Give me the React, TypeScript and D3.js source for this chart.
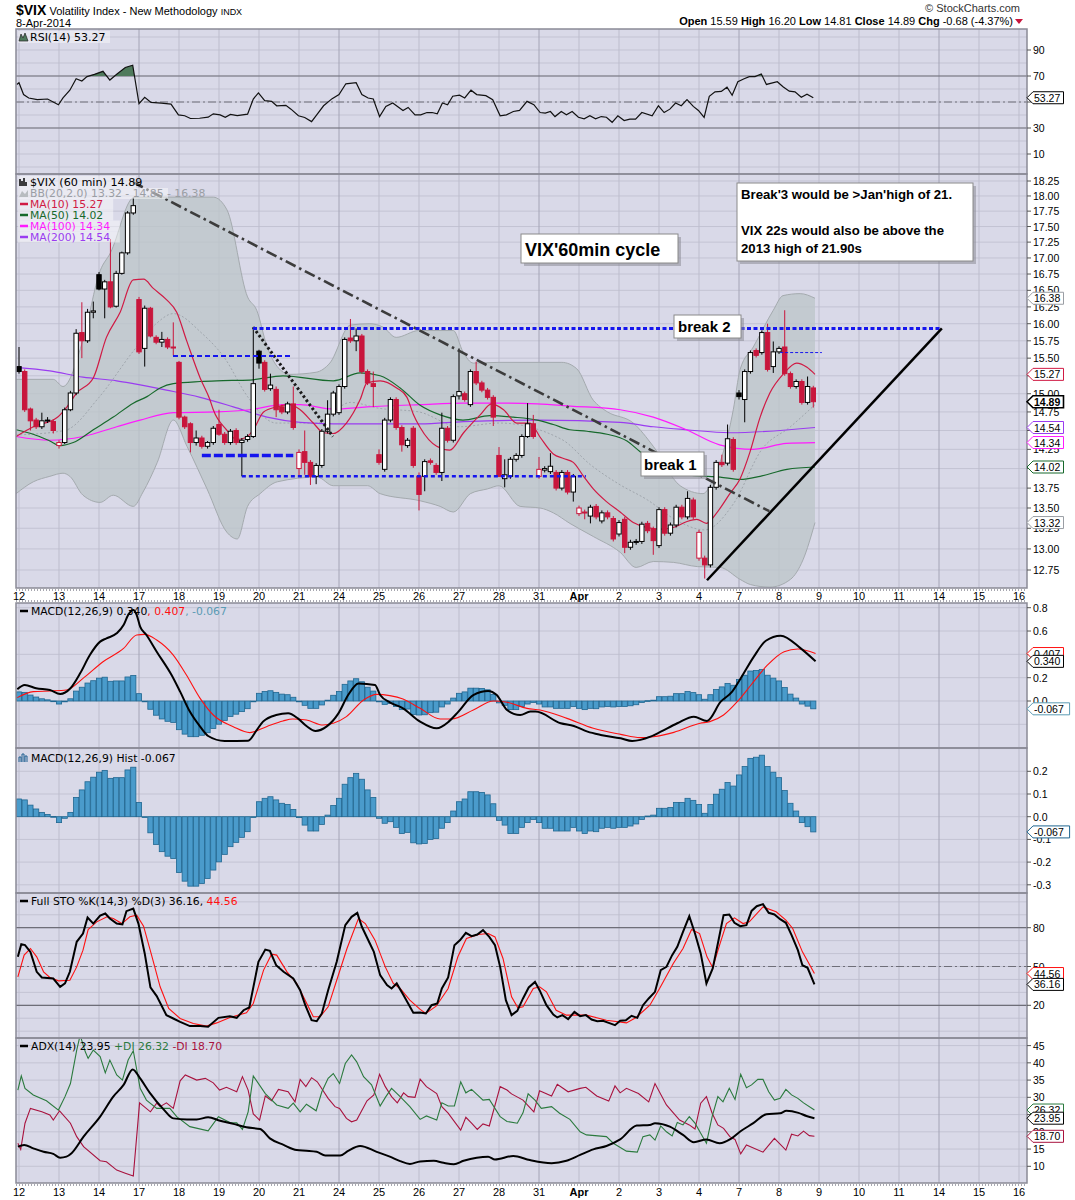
import React from "react";
import * as d3 from "d3";

type P = [number, number];

// ---------- data ----------
const dayLabels = ["12","13","14","17","18","19","20","21","24","25","26","27","28","31","Apr","2","3","4","7","8","9","10","11","14","15","16"];
const mondayDays = [3, 8, 13, 18, 23];
const BARS_PER_DAY = 7;

const opens = [15.38,15.31,14.79,14.64,14.55,14.63,14.62, 14.30,14.34,14.78,15.01,15.87,15.75,16.17, 16.74,16.52,16.63,16.26,16.76,17.08,17.72,
 16.36,15.64,16.23,15.80,15.73,15.77,15.66, 15.44,14.68,14.59,14.34,14.40,14.29,14.34, 14.58,14.45,14.34,14.50,14.34,14.38,14.42,
 15.60,15.44,15.07,15.06,14.82,14.75,14.86, 14.00,14.22,14.08,13.90,14.04,14.49,14.72, 14.74,15.10,15.79,15.75,15.82,15.31,15.14,
 14.18,13.99,14.64,14.92,14.54,14.30,14.53, 13.90,13.90,14.10,14.04,13.95,14.53,14.37, 14.97,15.00,14.85,15.31,15.15,15.05,14.95,
 14.17,13.87,13.90,14.12,14.17,14.42,14.59, 13.90,13.98,13.96,13.95,13.75,13.95,13.70, 13.43,13.45,13.40,13.52,13.34,13.44,13.37,
 13.18,13.36,13.02,13.08,13.09,13.31,13.24, 13.04,13.48,13.19,13.29,13.51,13.39,13.60, 12.89,12.89,12.81,13.76,14.08,14.07,14.38,
 15.01,14.92,15.31,15.61,15.58,15.87,15.38, 15.59,15.66,15.28,15.10,15.17,14.88,15.08];
const highs = [15.66,15.34,14.81,14.67,14.74,14.68,14.65, 14.37,14.81,15.04,15.92,16.32,16.22,16.33, 16.78,16.66,17.30,16.80,17.10,17.75,17.97,
 16.40,16.27,16.25,15.83,15.88,15.80,16.02, 15.46,14.70,14.61,14.50,14.43,14.36,14.56, 14.78,14.48,14.52,14.53,14.40,14.45,15.95,
 15.62,15.47,15.28,15.10,14.85,14.89,15.10, 14.25,14.50,14.11,14.07,14.52,14.91,15.04, 15.13,15.80,16.07,15.93,15.85,15.34,15.31,
 14.25,14.67,14.95,14.95,14.57,14.40,14.56, 13.95,14.12,14.13,14.07,14.74,14.56,14.99, 15.64,15.03,15.34,15.45,15.18,15.08,14.98,
 14.28,14.12,14.15,14.20,14.45,14.87,14.71, 14.15,14.03,14.20,13.98,13.98,13.98,13.93, 13.53,13.48,13.54,13.55,13.47,13.47,13.40,
 13.35,13.39,13.11,13.12,13.33,13.34,13.27, 13.51,13.51,13.32,13.54,13.54,13.71,13.63, 13.23,12.92,13.79,14.11,14.18,14.58,14.41,
 15.05,15.34,15.61,15.64,15.90,16.00,15.74, 15.67,16.20,15.31,15.20,15.20,15.24,15.11];
const lows = [15.28,14.75,14.50,14.52,14.52,14.60,14.46, 14.26,14.32,14.76,14.98,15.50,15.72,16.08, 16.50,16.08,16.23,16.24,16.74,17.05,17.69,
 15.56,15.38,15.80,15.70,15.66,15.63,15.54, 14.65,14.52,14.21,14.30,14.26,14.26,14.31, 14.43,14.31,14.31,14.31,13.90,14.35,14.40,
 15.35,15.03,15.04,14.68,14.72,14.72,14.51, 13.90,13.92,13.79,13.80,14.01,14.46,14.69, 14.71,15.07,15.72,15.60,15.28,15.12,14.82,
 14.05,13.96,14.61,14.51,14.22,14.27,14.01, 13.47,13.71,14.05,13.92,13.84,14.34,14.34, 14.92,14.89,14.82,15.12,15.02,14.92,14.56,
 13.89,13.76,13.87,14.09,14.14,14.40,14.39, 13.87,13.95,13.93,13.72,13.72,13.67,13.58, 13.40,13.36,13.31,13.36,13.31,13.36,13.09,
 13.15,12.95,12.99,13.05,13.06,13.19,12.93, 13.01,13.16,13.16,13.26,13.36,13.36,13.36, 12.86,12.65,12.78,13.73,14.02,14.04,13.96,
 14.92,14.61,15.28,15.51,15.55,15.31,15.29, 15.56,15.25,15.07,15.07,14.85,14.85,14.81];
const closes = [15.31,14.78,14.63,14.55,14.63,14.64,14.50, 14.34,14.78,15.01,15.86,15.75,16.17,16.19, 16.52,16.63,16.25,16.76,17.08,17.72,17.84,
 15.59,16.23,15.82,15.73,15.77,15.66,15.65, 14.68,14.55,14.34,14.40,14.29,14.34,14.53, 14.45,14.34,14.49,14.34,14.37,14.42,15.14,
 15.43,15.06,15.12,14.78,14.75,14.86,14.54, 14.21,14.08,13.90,14.04,14.49,14.72,15.01, 15.10,15.77,15.75,15.82,15.31,15.15,15.10,
 14.08,14.64,14.92,14.54,14.31,14.37,14.04, 13.67,14.09,14.08,13.95,14.53,14.37,14.96, 15.03,14.92,15.31,15.15,15.05,14.95,14.68,
 13.90,13.92,14.12,14.17,14.42,14.59,14.42, 13.99,14.00,14.03,13.75,13.95,13.70,13.90, 13.50,13.44,13.51,13.39,13.44,13.39,13.12,
 13.32,13.02,13.08,13.09,13.30,13.22,13.10, 13.48,13.19,13.29,13.51,13.39,13.62,13.39, 13.20,12.81,13.76,14.08,14.05,14.39,13.99,
 14.96,15.31,15.58,15.54,15.87,15.34,15.59, 15.64,15.28,15.10,15.17,14.88,15.10,14.89];

const bbUpper: P[] = [[-0.5,15.2],[6,15.2],[7.7,15.1],[11.2,15.76],[14.2,16.8],[16,17.08],[20,17.97],[21,17.98],[34,17.98],[36.4,17.77],[40,16.4],[41.6,16.2],[43.4,15.67],[45.2,15.38],[47.4,15.27],[52,15.3],[54.4,15.43],[58,15.98],[61.4,16.0],[63.7,15.95],[66,15.8],[70,15.9],[76,15.9],[77.7,15.59],[79.5,15.43],[84,15.44],[95,15.44],[97.6,15.35],[100.5,14.91],[101.7,14.82],[103,14.75],[107.5,14.6],[111,14.29],[115.7,13.78],[119.7,13.68],[121.5,13.87],[125,14.78],[126.2,15.34],[128.5,15.66],[132,16.2],[133.7,16.42],[136.7,16.45],[139.3,16.38]];
const bbLower: P[] = [[-0.5,13.68],[2.5,13.83],[5.4,13.9],[7.7,13.94],[8.9,13.9],[11.2,13.66],[14.2,13.57],[16.5,13.66],[20,13.52],[21.7,13.7],[24.2,14.08],[27,14.64],[29.4,14.29],[32.9,13.74],[36.4,13.2],[38.2,13.12],[40,13.52],[42.2,13.68],[45.2,13.83],[52.2,13.89],[55,13.78],[61,13.78],[63.2,13.68],[70.2,13.59],[73.7,13.52],[76,13.45],[79,13.68],[82,13.74],[84,13.78],[87.7,13.52],[91.2,13.5],[93.5,13.44],[96.4,13.31],[100.5,13.15],[105.2,12.96],[108,12.78],[111,12.85],[114.5,12.84],[118.7,12.79],[122.7,12.78],[126.2,12.64],[128,12.58],[131.4,12.55],[135,12.64],[137.2,12.87],[139.3,13.32]];
const bbMid: P[] = [[-0.5,14.44],[8,14.5],[14,14.95],[20,15.6],[24,16.0],[27,16.15],[32,15.86],[36,15.5],[40,14.96],[45,14.6],[52,14.6],[58,14.88],[63,14.8],[70,14.75],[77,14.55],[84,14.6],[95,14.38],[100,14.05],[105,13.8],[110,13.6],[115,13.35],[120,13.23],[125,13.55],[130,14.25],[135,14.55],[139.3,14.85]];
const ma10: P[] = [[-0.5,14.42],[2.5,14.55],[6.6,14.67],[8.3,14.81],[10.1,15.01],[13,15.22],[15.3,15.8],[17.7,16.17],[20,16.66],[21.8,16.67],[23.5,16.53],[25.8,16.36],[27.6,16.17],[29.3,15.76],[31.7,15.22],[33.4,14.92],[34,14.78],[36.3,14.51],[38.1,14.38],[39.8,14.41],[41,14.51],[42.8,14.75],[45.1,14.82],[47.4,14.85],[49.2,14.78],[51.5,14.6],[53.3,14.47],[55,14.46],[57.3,14.6],[59.7,14.92],[60.9,15.15],[63.2,15.18],[66.1,15.08],[67.9,14.95],[69,14.72],[70.2,14.54],[73.1,14.29],[75.4,14.24],[77.8,14.47],[80.7,14.71],[82.7,14.86],[84.8,14.78],[87.1,14.6],[89.4,14.6],[91.2,14.41],[93.5,14.19],[95.3,14.13],[97,14.08],[98.8,13.9],[100.5,13.74],[102.8,13.58],[105.2,13.45],[107.5,13.32],[109.8,13.26],[112.2,13.24],[114.5,13.26],[116.8,13.33],[118.6,13.36],[120.3,13.31],[122.1,13.44],[124.4,13.68],[126.2,13.87],[127.9,14.21],[129.7,14.68],[131.4,15.01],[133.8,15.28],[136.1,15.43],[137.9,15.37],[139.3,15.27]];
const ma50: P[] = [[-0.5,14.51],[2.5,14.45],[5.4,14.36],[7.2,14.3],[9.5,14.34],[13,14.51],[16.5,14.68],[20,14.87],[22.4,14.96],[24.7,15.08],[27,15.14],[31.7,15.17],[34.6,15.18],[40.4,15.19],[46.2,15.25],[55,15.18],[59.7,15.29],[63.2,15.25],[66.7,15.08],[70.2,14.84],[73.7,14.71],[77.7,14.64],[82.4,14.7],[86.5,14.68],[90.7,14.64],[93.5,14.58],[96.4,14.51],[99.4,14.49],[102.9,14.45],[106.4,14.36],[108.7,14.22],[111,14.11],[114.5,13.99],[118,13.91],[122.7,13.89],[126.2,13.86],[129.7,13.9],[134.4,13.99],[139.3,14.02]];
const ma100: P[] = [[-0.5,14.42],[5.4,14.37],[11.2,14.42],[17.1,14.55],[21.2,14.64],[27,14.74],[34.6,14.75],[40.4,14.78],[46.2,14.85],[49.2,14.85],[55,14.79],[60.9,14.82],[70.2,14.85],[77.8,14.87],[84.8,14.87],[90.7,14.86],[96.5,14.83],[105.2,14.78],[111,14.68],[116.8,14.51],[122.6,14.31],[128.5,14.25],[134.3,14.33],[139.3,14.34]];
const ma200: P[] = [[-0.5,15.37],[5.4,15.32],[11.2,15.23],[17.1,15.18],[20,15.14],[25.8,15.05],[31.7,14.95],[37.5,14.82],[43.4,14.68],[49.2,14.61],[55,14.59],[70.2,14.59],[77.8,14.62],[90.7,14.64],[105.2,14.61],[111,14.55],[116.8,14.51],[124.4,14.47],[139.3,14.54]];

const rsi: P[] = [[-0.4,63.5],[0,64.8],[0.8,55.7],[1.7,53.1],[3.2,51.8],[5,52.3],[6.9,47.9],[7.7,53.1],[8.9,59.1],[10,67.9],[11,66.1],[11.9,69.5],[13.2,71.3],[14.7,73.6],[15.9,66.9],[17.1,71.3],[18.6,76.5],[19.9,78.3],[21,48.7],[22,53.6],[23.1,49.7],[24.9,49.2],[26.6,48.4],[27.9,40.1],[29,39.4],[30,37.3],[31.6,37.5],[33.1,38.3],[34,40.9],[35.2,40.1],[36.1,38.3],[37,40.4],[38.2,39.6],[40,40.6],[41,52.3],[41.9,57],[43,51],[44.2,50.5],[45.1,47.1],[46.7,47.4],[47.6,44.5],[48.9,39.4],[50,38.1],[51.2,34.9],[52.1,40.1],[53.3,47.1],[54.8,52.6],[56,55.7],[57.2,64],[59,64.8],[60,55.7],[61.1,53.1],[62,52.3],[63.1,38.8],[64.2,46.6],[65.4,49.2],[67.2,43.5],[68.1,45.8],[69.3,40.1],[70.3,40.1],[71.4,41.9],[72.3,41.9],[73.2,40.9],[74.1,49.2],[75,47.9],[75.9,54.4],[77.1,55.2],[78,53.1],[79.1,59.1],[80.1,55.7],[81.7,54.9],[82.9,51.8],[84.2,39.4],[85.3,40.1],[86.5,42.7],[87.6,43.5],[88.9,50.5],[90.1,47.9],[91.2,41.9],[92.1,41.4],[93,42.7],[93.8,38.8],[94.9,42.7],[95.8,40.1],[96.8,42.7],[97.9,38.3],[98.9,37],[99.9,39.4],[100.9,37],[101.9,38.8],[102.8,38.3],[103.8,34.4],[104.8,39.4],[105.9,35.7],[106.9,36.8],[107.9,36.8],[109,41.9],[110.8,39.4],[111.9,47.1],[112.9,41.9],[113.9,44.5],[114.9,49.2],[115.9,47.1],[116.9,51.8],[118,46.6],[118.9,43.5],[119.9,38.1],[120.8,54.4],[121.8,57.8],[122.9,58.1],[123.9,61.4],[124.8,55.2],[125.8,65.6],[126.9,67.9],[127.8,69.5],[128.8,69.5],[129.9,71.6],[130.8,63.5],[132.7,65.6],[133.7,61.7],[134.8,58.3],[135.8,57.8],[136.9,53.6],[137.9,56],[139,53.3]];

const macdLine: P[] = [[-0.3,0.10],[1,0.137],[3,0.109],[5.4,0.094],[7.2,0.06],[9,0.109],[10.7,0.237],[12.4,0.394],[14.2,0.509],[15.3,0.537],[17.1,0.58],[18.3,0.651],[19.1,0.737],[20,0.78],[20.6,0.737],[21.2,0.637],[22.3,0.566],[24.1,0.423],[26.7,0.223],[28.2,0.08],[29.9,-0.091],[31.7,-0.22],[33.1,-0.30],[36,-0.343],[40.1,-0.34],[41.6,-0.249],[42.7,-0.177],[45,-0.12],[47.1,-0.106],[48.8,-0.149],[50.3,-0.214],[51.9,-0.257],[53.8,-0.22],[55.9,-0.106],[57.6,0.051],[59.4,0.151],[62.3,0.137],[63.2,0.051],[64.9,-0.011],[67.2,-0.063],[70.2,-0.177],[73.1,-0.234],[75.2,-0.177],[76.9,-0.091],[79.5,0.051],[82.1,0.086],[83.6,0.051],[85.4,-0.077],[87.7,-0.12],[89.5,-0.091],[90.4,-0.091],[94.8,-0.191],[97.1,-0.214],[99.5,-0.263],[101.8,-0.291],[105.3,-0.32],[107.3,-0.343],[110.5,-0.306],[112.3,-0.263],[115.2,-0.191],[118.1,-0.134],[120.4,-0.171],[122.8,-0.006],[124.8,0.08],[126.3,0.194],[128.6,0.38],[130.7,0.517],[133.3,0.56],[136.8,0.451],[139.4,0.340]];
const macdSignal: P[] = [[-0.3,0.029],[2.5,0.08],[5.4,0.086],[8.3,0.094],[11.2,0.194],[14.7,0.337],[18.3,0.451],[20.6,0.566],[22,0.571],[24.1,0.523],[27,0.394],[29.3,0.223],[31.7,0.023],[34,-0.12],[37.5,-0.22],[40.4,-0.271],[43.3,-0.22],[46.2,-0.171],[47.9,-0.154],[50.3,-0.163],[53.2,-0.206],[55,-0.191],[57.3,-0.134],[60.3,0.009],[62.6,0.057],[64.9,0.046],[67.2,0.017],[70.2,-0.063],[73.7,-0.154],[75.7,-0.154],[79.5,-0.077],[83,0],[85.4,-0.011],[88.9,-0.063],[91.2,-0.077],[95.9,-0.149],[100.5,-0.234],[105.3,-0.286],[108.7,-0.314],[111,-0.306],[114.6,-0.269],[119.2,-0.191],[120.9,-0.177],[123.3,-0.12],[125.7,-0.006],[128.1,0.137],[131,0.309],[133.9,0.423],[136.3,0.446],[139.4,0.407]];
const macdHist = [0.078,0.074,0.051,0.034,0.019,0.010,0.001,-0.026,-0.007,0.019,0.085,0.118,0.154,0.174,0.196,0.204,0.169,0.172,0.172,0.206,0.218,
 0.063,-0.002,-0.071,-0.122,-0.154,-0.174,-0.184,-0.246,-0.284,-0.306,-0.306,-0.294,-0.272,-0.235,-0.199,-0.166,-0.132,-0.113,-0.091,-0.066,-0.002,
 0.066,0.081,0.088,0.074,0.059,0.054,0.032,-0.004,-0.037,-0.063,-0.063,-0.034,0.007,0.049,0.081,0.143,0.172,0.191,0.165,0.118,0.085,
 -0.007,-0.029,-0.022,-0.047,-0.074,-0.069,-0.115,-0.120,-0.118,-0.100,-0.096,-0.051,-0.026,0.025,0.066,0.078,0.110,0.110,0.107,0.096,0.057,
 -0.016,-0.037,-0.074,-0.074,-0.047,-0.026,-0.012,-0.026,-0.051,-0.051,-0.063,-0.063,-0.063,-0.047,-0.063,-0.074,-0.063,-0.066,-0.051,-0.047,-0.051,
 -0.047,-0.047,-0.041,-0.032,-0.012,0.003,0.007,0.037,0.037,0.041,0.063,0.063,0.081,0.072,0.054,0.015,0.054,0.099,0.121,0.151,0.135,
 0.184,0.221,0.257,0.262,0.271,0.221,0.196,0.172,0.115,0.059,0.025,-0.026,-0.044,-0.067];

const stoK: P[] = [[-0.2,57.5],[0.4,67.3],[1.05,66.5],[2,61.3],[3.1,45.9],[4,41.5],[6,40.7],[7.2,34.3],[8.05,36.9],[8.9,45.9],[10.1,69.1],[11.2,75.5],[12,87.9],[13,83.2],[14.2,89.4],[15.1,91],[15.9,87.1],[17.1,83.2],[18.1,82.5],[18.8,92.8],[20,94.8],[20.9,83.2],[22,60.1],[23,33.8],[24.1,27.1],[25.8,12.4],[27,9.8],[28.2,7.2],[29.9,3.9],[31.7,3.9],[33.1,3.4],[34.9,10.3],[36.9,11.6],[38.1,10.3],[39.3,16.2],[40.3,18.3],[41.9,53.6],[43.1,63.1],[43.9,62.1],[45,51],[46.3,45.9],[48,40.7],[49.2,31.7],[50.1,20.1],[51.2,8.5],[52.1,7.7],[53,13.7],[54.1,31.7],[55.6,53.6],[57.1,82],[58.2,88.4],[59.2,91.5],[60,80.7],[61.4,67.8],[62.1,61.3],[63.2,43.3],[64.4,35.6],[65.2,33],[66.1,36.9],[67.3,27.8],[69,14.2],[70.2,14.5],[71.2,13.7],[72.2,20.1],[73.2,21.4],[74,33],[75.1,41.5],[76.2,66.5],[77.2,70.4],[78.2,76],[79.2,73.5],[80.2,74.7],[81.2,78.1],[82.3,72.9],[83.3,66.5],[84.2,49.7],[85.2,24],[86.2,12.4],[87.2,15.7],[88.2,25.3],[89.2,33.8],[90.3,38.1],[91.1,31.7],[92.3,20.1],[93.5,12.9],[94.2,10.6],[95.1,12.4],[96.1,9.3],[97.2,14.9],[98.2,11.6],[99.2,12.4],[100.2,9],[101.2,7.7],[102.2,8],[103.2,6.4],[104.3,4.6],[105.2,8],[106.2,8.5],[107.2,11.9],[108.2,10.3],[109.2,20.1],[110.2,25.3],[111.3,30.4],[112.3,47.2],[113.3,49.7],[114.3,58.8],[115.2,65.2],[116.2,76.8],[117.3,88.9],[118.3,75.5],[119.3,60.1],[120.3,36.9],[121.4,48.5],[122.3,67.8],[123.3,89.7],[124.3,90.2],[125.2,83.8],[126.2,81.2],[127.3,82],[128.2,93],[129.1,96.6],[130.2,98.2],[131.2,91.5],[132.2,90.2],[133.2,86.6],[134.2,83.8],[135.2,74.2],[136.3,62.6],[137.1,51],[138,49],[139.2,36.2]];
const stoD: P[] = [[-0.2,42],[0.9,58.8],[2,63.9],[3.1,57.5],[4.3,45.9],[5.4,41.5],[6.9,38.9],[8.9,39.4],[10.1,49.7],[11.2,62.6],[12.1,78.6],[13.6,84.5],[15.4,88.4],[16.5,87.1],[18,83.2],[19.4,88.4],[20.6,89.7],[21.8,81.2],[23.2,58.8],[24.7,34.3],[26.2,17.5],[28.2,9.8],[30.5,5.9],[32.8,3.9],[34.6,6.4],[36.9,10.6],[39.8,14.2],[41,21.4],[42.8,47.2],[44.2,59.5],[45.1,58.8],[46.9,45.9],[48.6,36.9],[49.8,26.5],[51.5,11.1],[52.7,11.1],[54.1,18.8],[55.6,39.4],[57.4,63.9],[59.4,87.1],[60.6,83.2],[62.3,70.4],[64.1,49.7],[65.5,36.9],[66.7,33],[68.4,24],[70.2,16.8],[71.2,13.7],[73,19.3],[75.1,33],[76.8,57.5],[78.3,71.6],[80.4,74.7],[82.1,75.5],[83.3,72.9],[84.7,56.2],[86.2,26.5],[87.3,18],[88.2,18.8],[90,33],[91.1,34.3],[92.3,30.4],[94,16.2],[95.8,12.4],[99.3,12.4],[102.8,8.5],[106.3,6.4],[108,10.6],[110.4,20.1],[112.1,33],[114.5,52.3],[116.2,63.9],[117.7,78.6],[119.1,75.5],[120.4,57.5],[121.4,49.2],[122.6,66.5],[123.8,83.2],[125.2,87.6],[126.7,83.2],[127.8,84.5],[130.2,96.1],[132.5,92.3],[134.2,85.8],[135.4,79.4],[137.1,61.3],[139.2,44.6]];

const adx: P[] = [[-0.2,15.7],[0.9,16.2],[2.5,15.2],[4.3,14.2],[6,13.6],[7.2,12.5],[8.3,12.8],[9.2,13.8],[11.3,18.6],[14.2,24.4],[16.5,30.2],[18.3,33.6],[19.9,38.1],[21.2,35.5],[22.9,31.3],[25.3,26.5],[27,23.9],[29.4,23.6],[31.1,23.6],[33.1,24.2],[35.2,23.2],[37.5,22.3],[39.8,21.3],[42.2,20.8],[43.9,18.1],[46.3,16.2],[48.6,14.7],[50.3,14.5],[52.1,14.2],[53.6,13.1],[56.2,13.1],[57.6,14.5],[59.7,15.9],[62.6,14.2],[64.9,12.8],[66.7,11.5],[68.4,10.7],[70.2,11.4],[72.6,11.6],[74.3,11],[76.1,10.6],[77.8,11.6],[80.1,12.5],[82.1,12.8],[83.3,12],[86.5,13],[89.4,11.8],[93.2,10.9],[95.8,11.6],[98.2,13.3],[100.5,14.9],[102.8,15.9],[105.2,17.8],[108.1,21.8],[110.4,22],[111.3,22.5],[113.9,21.5],[116.2,19.1],[118.1,17],[120.3,17.8],[122.6,16.7],[124.7,18.1],[126.4,20.3],[128.5,22.5],[130.8,25.1],[133.2,25.4],[134.3,26.1],[136.4,25.5],[137.8,24.6],[139.2,23.95]];
const plusDI: P[] = [[-0.2,32.1],[0.4,36.2],[1.05,32.6],[2.5,30.7],[4.8,29],[6.9,26.3],[8.05,30.2],[9,34],[10.1,43.7],[10.7,48],[11.6,43.2],[12.1,41.3],[13,43.7],[14.2,41.8],[15.1,37.1],[15.9,40.8],[17.1,36.5],[18.1,35],[19.1,40.8],[20,43.5],[21.2,32.6],[22.3,29.2],[24.1,26.8],[26.4,26.8],[27.6,24.4],[29.9,21.5],[33.1,20.3],[34.9,24.4],[36.9,22.7],[38.1,22.6],[39.1,20.7],[40.1,25.8],[41,36.2],[43.1,31.1],[45.1,27.8],[47.1,26.8],[48,28.3],[49.2,25.8],[50.3,28],[52,26.1],[53,31.6],[54.1,35.5],[55,36.9],[56.1,34],[57.1,39.8],[58.2,42.3],[59.1,40.3],[60.3,36],[61.7,33.6],[63.2,27.5],[64.2,30.2],[65.2,32.6],[66.7,30.2],[68.4,27.3],[70.2,23.6],[71.3,24.6],[73.1,23.4],[74,28.4],[75.1,27.5],[76.2,27.5],[77.3,34.5],[78.2,31.3],[79.2,32.3],[81.2,29.2],[82.3,29.4],[84.2,24.4],[85.4,23],[87.2,22.5],[88.2,25.5],[89.1,31],[90.3,29.2],[91.4,26.8],[93.2,27.3],[94.6,25.4],[96.4,23.6],[98.2,20],[99.3,19.1],[102.8,18.6],[104,16.7],[106.3,14.4],[108.2,14.1],[109.2,18.6],[110.4,19.1],[111.3,17.6],[112.3,21.7],[113.3,20],[114.3,18.8],[115.2,22.7],[116.2,22],[117.3,24.4],[118.3,22.5],[119.3,19.6],[120.3,16.7],[121.3,24.4],[122.3,30.2],[123.2,28.7],[124.3,32.6],[125.3,29.4],[126.3,36.7],[127.3,32.8],[128.2,33.6],[129.3,35.2],[130.2,35.2],[131.2,31.6],[132.2,29.2],[133.2,29.7],[134.2,32.3],[135.2,30.7],[136.3,29.7],[137.3,28.4],[139.2,26.32]];
const minusDI: P[] = [[-0.2,16.7],[0.3,14.9],[1.05,22.5],[2,26.8],[4,25.8],[5.4,24.9],[6,23.4],[7.1,26.1],[9,22.5],[10.1,18.6],[11.3,15.7],[14.2,11.6],[15.3,11.3],[17.1,8.9],[18.6,8],[20,7.2],[21.1,28.4],[23,25.8],[24.1,28.3],[24.7,27.3],[25.8,28.4],[27,26.8],[28.2,34.8],[29.1,36.5],[31.1,35],[32.6,35.5],[34,34.2],[35.1,32.1],[36.3,32.9],[38.1,31.6],[39.1,36],[40.1,32.1],[41,25.2],[42.1,23.4],[43.1,30.4],[44.2,29],[45.4,32.3],[47.1,31.6],[48.3,28.7],[49.2,35.2],[50.2,33.1],[51.2,35.7],[52.2,34.5],[54.1,29.7],[55.3,27.3],[56.1,26.8],[57.3,23.9],[58.2,22.9],[59.1,23.4],[60.9,29],[62.1,30.7],[63.1,36.7],[64.1,33.1],[65.2,30.2],[66.2,28.4],[67.3,31.3],[68.1,30.2],[69.3,30],[70.2,35.3],[71.3,33.1],[73.1,31.1],[74,27.3],[75.1,25.4],[77.3,20.5],[78.2,24.2],[79.2,22.5],[80.2,20.7],[81.2,22.3],[82.3,21.7],[84.2,33.1],[85.4,32.1],[86.2,31],[88.2,29.2],[90.1,25.8],[91.1,31.9],[93.2,30.4],[94.2,33.8],[96.1,31.6],[98.2,32.6],[99.2,32.9],[101.1,30.4],[103.2,28.9],[104.3,33.3],[105.2,31.3],[106.3,32.6],[108.4,31.1],[110.2,28.7],[111.3,34],[113.3,27.8],[115.6,23.4],[117.3,22],[118.3,20.8],[119.3,28.3],[120.3,30.2],[121.3,25.4],[122.3,22],[123.3,21],[124.4,18.6],[125.3,17.8],[126.3,13.6],[127.3,16.2],[130.2,14.1],[132.2,18.1],[134.2,14.7],[135.2,19.3],[136.3,18.8],[137.3,20.2],[138.3,18.9],[139.2,18.7]];

// annotations in data space: [barIndex, price]
const trendDashDot: P[] = [[19.95, 18.23], [131.3, 13.46]];
const trendDotted: P[] = [[40.95, 15.95], [54.95, 14.42]];
const trendRising: P[] = [[120.4, 12.63], [161.5, 15.93]];
const break2Line: P[] = [[40.95, 15.93], [161.5, 15.93]];
const shortDash1: P[] = [[26.95, 15.53], [47.95, 15.53]];
const thickDash: P[] = [[32, 14.17], [48, 14.17]];
const supportDotted: P[] = [[39, 13.9], [99.2, 13.9]];
const lastDash: P[] = [[133.2, 15.58], [140.5, 15.58]];

// axis label values (those fully hidden under value tags are left out)
const mainLabelVals = [12.75,13.0,13.25,13.5,13.75,14.25,14.75,15.0,15.5,15.75,16.0,16.25,16.5,16.75,17.0,17.25,17.5,17.75,18.0,18.25];
const rsiLabelVals = [10, 30, 70, 90];
const macdLabelVals = [0, 0.2, 0.6, 0.8];
const histLabelVals = [-0.3, -0.2, -0.1, 0, 0.1, 0.2];
const stoLabelVals = [20, 50, 80];
const adxLabelVals = [10, 15, 20, 30, 35, 40, 45];

// ---------- layout ----------
const PL = 16, PR = 1027;
const RSI = { t: 29, b: 174 };
const MAIN = { t: 174, b: 588 };
const MACD = { t: 603, b: 748 };
const HIST = { t: 748, b: 893 };
const STO = { t: 893, b: 1038 };
const ADX = { t: 1038, b: 1183 };

const BG = "#d9d9e8";
const RED = "#c8163c";
const AX_FONT = "'Liberation Sans', Arial, sans-serif";
const LG_FONT = "'DejaVu Sans', Verdana, sans-serif";

function Tag({ y, text, color, bold }: { y: number; text: string; color: string; bold?: boolean }) {
  const x0 = PR;
  const w = 6 + text.length * 6.1;
  return (
    <g>
      <path d={`M${x0},${y} L${x0 + 6},${y - 6} L${x0 + w},${y - 6} L${x0 + w},${y + 6} L${x0 + 6},${y + 6} Z`} fill="#fff" stroke={color} strokeWidth={bold ? 1.6 : 1} />
      <text x={x0 + 7} y={y + 4} fontSize={10.5} fontFamily={AX_FONT} fontWeight={bold ? "bold" : "normal"} fill="#000">{text}</text>
    </g>
  );
}

function Box({ x, y, w, h, children }: any) {
  return (
    <g>
      <rect x={x + 3} y={y + 3} width={w} height={h} fill="#8c8c96" opacity={0.55} />
      <rect x={x} y={y} width={w} height={h} fill="#fff" stroke="#8a8a8a" strokeWidth={1} />
      {children}
    </g>
  );
}

export default function App() {
  const xs = d3.scaleLinear().domain([0, 175]).range([19, 1019]);
  const yRsi = d3.scaleLinear().domain([0, 100]).range([167, 37]);
  const yMain = d3.scaleLog().domain([12.75, 18.25]).range([570, 181]);
  const yMacd = d3.scaleLinear().domain([0, 0.8]).range([701, 607.7]);
  const yHist = d3.scaleLinear().domain([0, 0.2]).range([816.7, 771.3]);
  const ySto = d3.scaleLinear().domain([20, 80]).range([1005.3, 927.7]);
  const yAdx = d3.scaleLinear().domain([10, 45]).range([1166.3, 1045.6]);

  const line = (y: any, curve: any = d3.curveLinear) =>
    d3.line<P>().x((d) => xs(d[0])).y((d) => y(d[1])).curve(curve);
  const smooth = d3.curveMonotoneX;

  const dayIdx = d3.range(dayLabels.length);
  const dayX = (k: number) => xs(k * BARS_PER_DAY);

  const panels = [RSI, MAIN, MACD, HIST, STO, ADX];

  const vGrid = (p: { t: number; b: number }) =>
    dayIdx.map((k) => (
      <line key={k} x1={dayX(k)} x2={dayX(k)} y1={p.t} y2={p.b}
        stroke={mondayDays.includes(k) ? "#a4a4b6" : "#bdbdcd"} strokeWidth={1} />
    ));
  const hGrid = (vals: number[], y: any, key: string) =>
    vals.map((v) => <line key={key + v} x1={PL} x2={PR} y1={y(v)} y2={y(v)} stroke="#c3c3d3" strokeWidth={1} />);

  const mainTicks = d3.range(0, 23).map((k) => 12.75 + k * 0.25);
  const rsiGrid = d3.range(0, 101, 10);
  const macdGrid = [-0.4, -0.2, 0, 0.2, 0.4, 0.6, 0.8];
  const histGrid = [-0.3, -0.2, -0.1, 0, 0.1, 0.2, 0.3];
  const stoGrid = d3.range(0, 101, 10);
  const adxGrid = d3.range(5, 46, 5);

  const tickMarks = (vals: number[], y: any, key: string) =>
    vals.map((v) => <line key={key + v} x1={PR} x2={PR + 4} y1={y(v)} y2={y(v)} stroke="#555" />);
  const rightLabels = (vals: number[], y: any, fmt: (v: number) => string, key: string) =>
    vals.map((v) => (
      <text key={key + v} x={PR + 6} y={y(v) + 4} fontSize={10.5} fontFamily={AX_FONT} fill="#000">{fmt(v)}</text>
    ));

  const histBars = (y: any, key: string) =>
    macdHist.map((v, i) => {
      const y0 = y(0), y1 = y(v);
      return (
        <rect key={key + i} x={xs(i) - 2.6} width={5.2} y={Math.min(y0, y1)} height={Math.max(0.8, Math.abs(y1 - y0))}
          fill="#4a9bcb" stroke="#1f6690" strokeWidth={0.8} />
      );
    });

  const bandPath =
    (line(yMain, smooth)(bbUpper) || "") +
    "L" + (line(yMain, smooth)(bbLower.slice().reverse()) || "").slice(1) + "Z";

  const rsiArea = d3.area<P>().x((d) => xs(d[0])).y0(yRsi(70)).y1((d) => yRsi(d[1]));

  const candles = closes.map((c, i) => {
    const o = opens[i], h = highs[i], l = lows[i];
    const col = i > 0 && c < closes[i - 1] ? RED : "#000";
    const filled = c < o;
    const x = xs(i);
    const top = yMain(Math.max(o, c)), bot = yMain(Math.min(o, c));
    return (
      <g key={"c" + i}>
        <line x1={x} x2={x} y1={yMain(h)} y2={yMain(l)} stroke={col} strokeWidth={1} />
        <rect x={x - 2.2} width={4.4} y={top} height={Math.max(1, bot - top)}
          fill={filled ? col : "#fff"} stroke={col} strokeWidth={1} />
      </g>
    );
  });

  const seg = (pts: P[]) => line(yMain)(pts) || "";

  const dayLabelRow = (y: number, key: string) =>
    dayIdx.map((k) => (
      <text key={key + k} x={dayX(k)} y={y} fontSize={11} fontFamily={AX_FONT} textAnchor="middle"
        fontWeight={dayLabels[k] === "Apr" ? "bold" : "normal"} fill="#000">{dayLabels[k]}</text>
    ));

  const legendRow = (y: number, color: string, text: string, key: string) => (
    <g key={key}>
      <rect x={18} y={y - 9} width={text.length * 6.6 + 16} height={11} fill="#fff" opacity={0.45} />
      <line x1={20} x2={28} y1={y - 3.5} y2={y - 3.5} stroke={color} strokeWidth={2.5} />
      <text x={30} y={y} fontSize={10.8} fontFamily={LG_FONT} fill={color}>{text}</text>
    </g>
  );

  return (
    <svg width={1075} height={1200} viewBox="0 0 1075 1200"
      style={{ position: "absolute", left: 0, top: 0, background: "#fff", display: "block" }}>
      <defs>
        {panels.map((p, k) => (
          <clipPath id={"clip" + k} key={k}>
            <rect x={PL} y={p.t} width={PR - PL} height={p.b - p.t} />
          </clipPath>
        ))}
        <clipPath id="rsiAbove">
          <rect x={PL} y={RSI.t} width={PR - PL} height={yRsi(70) - RSI.t} />
        </clipPath>
      </defs>

      {/* header */}
      <text x={16} y={15} fontFamily={AX_FONT} fontSize={14} fontWeight="bold" fill="#000">$VIX
        <tspan fontWeight="normal" fontSize={11}> Volatility Index - New Methodology </tspan>
        <tspan fontWeight="normal" fontSize={9}>INDX</tspan>
      </text>
      <text x={16} y={27} fontFamily={AX_FONT} fontSize={11} fill="#000">8-Apr-2014</text>
      <text x={1020} y={12} fontFamily={AX_FONT} fontSize={11} textAnchor="end" fill="#333">© StockCharts.com</text>
      <text x={1013} y={25} fontFamily={AX_FONT} fontSize={11} textAnchor="end" fill="#000">
        <tspan fontWeight="bold">Open</tspan> 15.59 <tspan fontWeight="bold"> High</tspan> 16.20 <tspan fontWeight="bold"> Low</tspan> 14.81 <tspan fontWeight="bold"> Close</tspan> 14.89 <tspan fontWeight="bold"> Chg</tspan> -0.68 (-4.37%)
      </text>
      <path d="M1015,19 L1023,19 L1019,24 Z" fill={RED} />

      {/* panel backgrounds + grids */}
      {panels.map((p, k) => (
        <rect key={"bg" + k} x={PL} y={p.t} width={PR - PL} height={p.b - p.t} fill={BG} />
      ))}
      <g clipPath="url(#clip0)">{hGrid(rsiGrid, yRsi, "rg")}{vGrid(RSI)}</g>
      <g clipPath="url(#clip1)">{hGrid(mainTicks, yMain, "mg")}{vGrid(MAIN)}</g>
      <g clipPath="url(#clip2)">{hGrid(macdGrid, yMacd, "ag")}{vGrid(MACD)}</g>
      <g clipPath="url(#clip3)">{hGrid(histGrid, yHist, "hg")}{vGrid(HIST)}</g>
      <g clipPath="url(#clip4)">{hGrid(stoGrid, ySto, "sg")}{vGrid(STO)}</g>
      <g clipPath="url(#clip5)">{hGrid(adxGrid, yAdx, "dg")}{vGrid(ADX)}</g>

      {/* RSI */}
      <g clipPath="url(#clip0)">
        <line x1={PL} x2={PR} y1={yRsi(70)} y2={yRsi(70)} stroke="#6e6e78" strokeWidth={1.2} />
        <line x1={PL} x2={PR} y1={yRsi(30)} y2={yRsi(30)} stroke="#6e6e78" strokeWidth={1.2} />
        <line x1={PL} x2={PR} y1={yRsi(50)} y2={yRsi(50)} stroke="#6e6e78" strokeWidth={1} strokeDasharray="8,3,2,3" />
        <path d={rsiArea(rsi) || ""} fill="#4f7a5c" clipPath="url(#rsiAbove)" />
        <path d={line(yRsi)(rsi) || ""} fill="none" stroke="#111" strokeWidth={1.2} />
      </g>
      <rect x={18} y={31} width={92} height={12} fill="#fff" opacity={0.4} />
      <path d="M19,41 L21,34 L23,38 L25,33 L28,41 Z" fill="#4f7a5c" stroke="#222" strokeWidth={0.7} />
      <text x={30} y={41} fontSize={11} fontFamily={LG_FONT} fill="#000">RSI(14) 53.27</text>

      {/* MAIN */}
      <g clipPath="url(#clip1)">
        <path d={bandPath} fill="#bcc5c9" opacity={0.78} />
        <path d={line(yMain, smooth)(bbUpper) || ""} fill="none" stroke="#a4aaae" strokeWidth={1} />
        <path d={line(yMain, smooth)(bbLower) || ""} fill="none" stroke="#a4aaae" strokeWidth={1} />
        <path d={line(yMain, smooth)(bbMid) || ""} fill="none" stroke="#a0a6ad" strokeWidth={1} strokeDasharray="2,2" />
        <path d={line(yMain, smooth)(ma200) || ""} fill="none" stroke="#9a3cf0" strokeWidth={1.2} />
        <path d={line(yMain, smooth)(ma100) || ""} fill="none" stroke="#ff1aff" strokeWidth={1.2} />
        <path d={line(yMain, smooth)(ma50) || ""} fill="none" stroke="#17692c" strokeWidth={1.2} />
        <path d={line(yMain, smooth)(ma10) || ""} fill="none" stroke="#d01a44" strokeWidth={1.2} />
        {candles}
        <path d={seg(trendDashDot)} stroke="#3c3c3c" strokeWidth={2.6} strokeDasharray="11,4,2.5,4" fill="none" />
        <path d={seg(trendDotted)} stroke="#1a1a1a" strokeWidth={3} strokeDasharray="2.5,2.5" fill="none" />
        <path d={seg(break2Line)} stroke="#1515ee" strokeWidth={3} strokeDasharray="4,2.5" fill="none" />
        <path d={seg(shortDash1)} stroke="#1515ee" strokeWidth={2} strokeDasharray="5,3" fill="none" />
        <path d={seg(thickDash)} stroke="#1515ee" strokeWidth={3.5} strokeDasharray="9,3" fill="none" />
        <path d={seg(supportDotted)} stroke="#1515ee" strokeWidth={2.5} strokeDasharray="4,3" fill="none" />
        <path d={seg(lastDash)} stroke="#1515ee" strokeWidth={1} strokeDasharray="3,2" fill="none" />
        <path d={seg(trendRising)} stroke="#000" strokeWidth={2.5} fill="none" />
      </g>

      {/* main legend */}
      <rect x={18} y={176} width={118} height={12} fill="#fff" opacity={0.45} />
      <path d="M20,186 L20,179 M22,186 L22,181 M24,186 L24,178 M26,186 L26,182" stroke="#000" strokeWidth={1.5} />
      <text x={30} y={186} fontSize={11.2} fontFamily={LG_FONT} fill="#000">$VIX (60 min) 14.89</text>
      <rect x={18} y={188} width={150} height={11} fill="#fff" opacity={0.45} />
      <path d="M19,197 L22,191 L25,194 L28,190 L28,197 Z" fill="#b8bcc0" />
      <text x={30} y={197} fontSize={10.8} fontFamily={LG_FONT} fill="#9a9ea4">BB(20,2.0) 13.32 - 14.85 - 16.38</text>
      {legendRow(207.5, "#d01a44", "MA(10) 15.27", "l1")}
      {legendRow(218.5, "#17692c", "MA(50) 14.02", "l2")}
      {legendRow(229.5, "#ff1aff", "MA(100) 14.34", "l3")}
      {legendRow(240.5, "#9a3cf0", "MA(200) 14.54", "l4")}

      {/* text boxes */}
      <Box x={521} y={234} w={157} h={29}>
        <text x={525} y={256} fontSize={18} fontWeight="bold" fontFamily={AX_FONT} fill="#000">VIX'60min cycle</text>
      </Box>
      <Box x={674} y={315} w={67} h={23}>
        <text x={678} y={332} fontSize={15} fontWeight="bold" fontFamily={AX_FONT} fill="#000">break 2</text>
      </Box>
      <Box x={641} y={452} w={63} h={24}>
        <text x={644} y={469.5} fontSize={15} fontWeight="bold" fontFamily={AX_FONT} fill="#000">break 1</text>
      </Box>
      <Box x={737} y={183} w={236} h={78}>
        <text x={741} y={199} fontSize={13.2} fontWeight="bold" fontFamily={AX_FONT} fill="#000">Break'3 would be &gt;Jan'high of 21.</text>
        <text x={741} y={235} fontSize={13.2} fontWeight="bold" fontFamily={AX_FONT} fill="#000">VIX 22s would also be above the</text>
        <text x={741} y={253} fontSize={13.2} fontWeight="bold" fontFamily={AX_FONT} fill="#000">2013 high of 21.90s</text>
      </Box>

      {/* MACD */}
      <g clipPath="url(#clip2)">
        {histBars(yMacd, "mh")}
        <path d={line(yMacd, smooth)(macdSignal) || ""} fill="none" stroke="#ff1010" strokeWidth={1.1} />
        <path d={line(yMacd, smooth)(macdLine) || ""} fill="none" stroke="#000" strokeWidth={2} />
      </g>
      <line x1={20} x2={28} y1={611} y2={611} stroke="#000" strokeWidth={2.5} />
      <text x={31} y={615} fontSize={10.8} fontFamily={LG_FONT} fill="#000">MACD(12,26,9) 0.340<tspan fill="#ff1010">, 0.407</tspan><tspan fill="#5b9bb4">, -0.067</tspan></text>

      {/* HIST */}
      <g clipPath="url(#clip3)">{histBars(yHist, "hh")}</g>
      <path d="M19,762 L19,757 L21,757 L21,762 M22,762 L22,754 L24,754 L24,762 M25,762 L25,756 L27,756 L27,762" fill="none" stroke="#1f5f90" strokeWidth={1} />
      <text x={31} y={762} fontSize={10.8} fontFamily={LG_FONT} fill="#000">MACD(12,26,9) Hist -0.067</text>

      {/* STO */}
      <g clipPath="url(#clip4)">
        <line x1={PL} x2={PR} y1={ySto(80)} y2={ySto(80)} stroke="#6e6e78" strokeWidth={1.2} />
        <line x1={PL} x2={PR} y1={ySto(20)} y2={ySto(20)} stroke="#6e6e78" strokeWidth={1.2} />
        <line x1={PL} x2={PR} y1={ySto(50)} y2={ySto(50)} stroke="#6e6e78" strokeWidth={1} strokeDasharray="8,3,2,3" />
        <path d={line(ySto)(stoD) || ""} fill="none" stroke="#ff1010" strokeWidth={1.1} />
        <path d={line(ySto)(stoK) || ""} fill="none" stroke="#000" strokeWidth={2} />
      </g>
      <line x1={20} x2={28} y1={901} y2={901} stroke="#000" strokeWidth={2.5} />
      <text x={31} y={905} fontSize={10.8} fontFamily={LG_FONT} fill="#000">Full STO %K(14,3) %D(3) 36.16, <tspan fill="#ff1010">44.56</tspan></text>

      {/* ADX */}
      <g clipPath="url(#clip5)">
        <path d={line(yAdx)(minusDI) || ""} fill="none" stroke="#a8123e" strokeWidth={1.1} />
        <path d={line(yAdx)(plusDI) || ""} fill="none" stroke="#2b7a3e" strokeWidth={1.1} />
        <path d={line(yAdx, smooth)(adx) || ""} fill="none" stroke="#000" strokeWidth={2} />
      </g>
      <line x1={20} x2={28} y1={1046} y2={1046} stroke="#000" strokeWidth={2.5} />
      <text x={31} y={1050} fontSize={10.8} fontFamily={LG_FONT} fill="#000">ADX(14) 23.95 <tspan fill="#2b7a3e">+DI 26.32 </tspan><tspan fill="#a8123e">-DI 18.70</tspan></text>

      {/* panel borders */}
      {panels.map((p, k) => (
        <rect key={"bd" + k} x={PL} y={p.t} width={PR - PL} height={p.b - p.t} fill="none" stroke="#8a8a96" strokeWidth={1.5} />
      ))}
      <line x1={PL} x2={PR} y1={590} y2={590} stroke="#8a8a96" strokeWidth={1.5} strokeDasharray="1,2" />
      <line x1={PL} x2={PR} y1={601} y2={601} stroke="#8a8a96" strokeWidth={1.5} strokeDasharray="1,2" />
      <line x1={PL} x2={PR} y1={1185} y2={1185} stroke="#8a8a96" strokeWidth={1.5} strokeDasharray="1,2" />

      {/* x labels */}
      {dayLabelRow(599.5, "xa")}
      {dayLabelRow(1196, "xb")}

      {/* right axes */}
      {tickMarks([10, 30, 50, 70, 90], yRsi, "rt")}
      {tickMarks(mainTicks, yMain, "mt")}
      {tickMarks([0, 0.2, 0.4, 0.6, 0.8], yMacd, "at")}
      {tickMarks([-0.3, -0.2, -0.1, 0, 0.1, 0.2], yHist, "ht")}
      {tickMarks([20, 50, 80], ySto, "st")}
      {tickMarks([10, 15, 20, 25, 30, 35, 40, 45], yAdx, "dt")}
      {rightLabels(rsiLabelVals, yRsi, (v) => String(v), "ry")}
      {rightLabels(mainLabelVals, yMain, (v) => v.toFixed(2), "my")}
      {rightLabels(macdLabelVals, yMacd, (v) => v.toFixed(1), "ay")}
      {rightLabels(histLabelVals, yHist, (v) => v.toFixed(1), "hy")}
      {rightLabels(stoLabelVals, ySto, (v) => String(v), "sy")}
      {rightLabels(adxLabelVals, yAdx, (v) => String(v), "dy")}

      {/* value tags */}
      <Tag y={yRsi(53.27)} text="53.27" color="#000" />
      <Tag y={yMain(16.38)} text="16.38" color="#9a9ea4" />
      <Tag y={yMain(15.27)} text="15.27" color="#d01a44" />
      <Tag y={yMain(14.89)} text="14.89" color="#000" bold />
      <Tag y={yMain(14.54)} text="14.54" color="#9a3cf0" />
      <Tag y={yMain(14.34)} text="14.34" color="#ff1aff" />
      <Tag y={yMain(14.02)} text="14.02" color="#17692c" />
      <Tag y={yMain(13.32)} text="13.32" color="#9a9ea4" />
      <Tag y={yMacd(0.407)} text="0.407" color="#ff1010" />
      <Tag y={yMacd(0.34)} text="0.340" color="#000" />
      <Tag y={yMacd(-0.067)} text="-0.067" color="#5b9bb4" />
      <Tag y={yHist(-0.067)} text="-0.067" color="#1f6690" />
      <Tag y={ySto(44.56)} text="44.56" color="#ff1010" />
      <Tag y={ySto(36.16)} text="36.16" color="#000" />
      <Tag y={yAdx(26.32)} text="26.32" color="#2b7a3e" />
      <Tag y={yAdx(23.95)} text="23.95" color="#000" />
      <Tag y={yAdx(18.7)} text="18.70" color="#a8123e" />
    </svg>
  );
}
